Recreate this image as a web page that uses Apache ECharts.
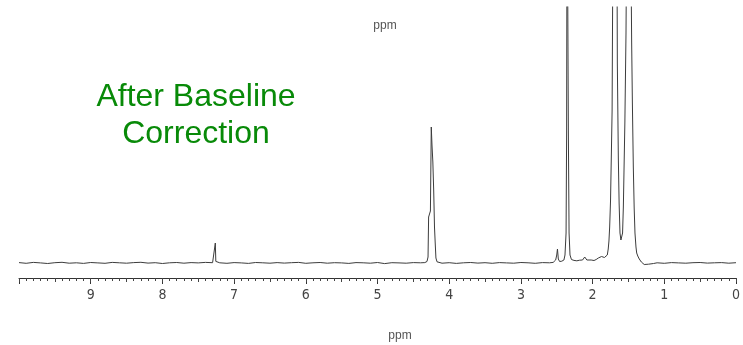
<!DOCTYPE html>
<html>
<head>
<meta charset="utf-8">
<script src="https://cdn.jsdelivr.net/npm/echarts@6/dist/echarts.min.js"></script>
<style>
  html, body { margin: 0; padding: 0; background: #fff; }
  #chart { width: 743px; height: 345px; }
</style>
</head>
<body>
<div id="chart"></div>
<script>
// spectrum trace (ppm, height above baseline)
const ppm = [
  10.0, 9.9, 9.8, 9.7, 9.6, 9.5, 9.4, 9.3, 9.2, 9.1, 9.0, 8.9, 8.8, 8.7, 8.6, 8.5, 8.4, 8.3, 8.2, 8.1,
  8.0, 7.9, 7.8, 7.7, 7.6, 7.5, 7.4, 7.3, 7.275, 7.262, 7.255, 7.245, 7.2, 7.1, 7.0, 6.9, 6.8, 6.7, 6.6,
  6.5, 6.4, 6.3, 6.2, 6.1, 6.0, 5.9, 5.8, 5.7, 5.6, 5.5, 5.4, 5.3, 5.2, 5.1, 5.0, 4.9, 4.8, 4.7, 4.6,
  4.5, 4.4, 4.34, 4.31, 4.295, 4.287, 4.275, 4.262, 4.25, 4.24, 4.228, 4.216, 4.205, 4.195, 4.185, 4.17,
  4.15, 4.1, 4.0, 3.9, 3.8, 3.7, 3.6, 3.5, 3.4, 3.3, 3.2, 3.1, 3.0, 2.9, 2.8, 2.7, 2.6, 2.55,
  2.515, 2.5, 2.49, 2.478, 2.46, 2.43, 2.40, 2.385, 2.37, 2.362, 2.356, 2.345, 2.338, 2.328, 2.315, 2.295,
  2.26, 2.22, 2.18, 2.14, 2.11, 2.095, 2.08, 2.06, 2.02, 1.98, 1.95, 1.92, 1.90, 1.875, 1.86, 1.835,
  1.81, 1.795, 1.782, 1.772, 1.762, 1.75, 1.738, 1.728, 1.718, 1.711, 1.664, 1.655, 1.641, 1.63, 1.618,
  1.605, 1.594, 1.582, 1.571, 1.55, 1.534, 1.516, 1.478, 1.455, 1.445, 1.432, 1.42, 1.409, 1.395, 1.385,
  1.37, 1.349, 1.32, 1.28, 1.22, 1.15, 1.1, 1.0, 0.9, 0.8, 0.7, 0.6, 0.5, 0.4, 0.3, 0.2, 0.1, 0.0
];
const intensity = [
  0.4, -0.3, 0.6, 0.1, -0.5, 0.3, 0.7, -0.2, 0.2, -0.4, 0.5, 0.1, -0.3, 0.6, 0.2, -0.2, 0.4, 0.7, -0.1, 0.3,
  -0.5, 0.2, 0.5, -0.2, 0.4, 0.1, 0.6, 0.3, 0.8, 20, 1.6, 0.9, 0.2, -0.3, 0.4, 0.1, -0.4, 0.5, 0.2,
  -0.2, 0.4, -0.1, 0.3, 0.6, -0.3, 0.2, 0.5, -0.2, 0.3, 0.1, -0.4, 0.4, 0.2, -0.2, 0.5, -0.6, 0.3, 0.1, -0.2,
  0.4, 0.2, 0.4, 1.5, 6, 46, 44, 52, 136, 118, 101, 72, 36, 20, 5, 1.2,
  0.3, -0.2, 0.3, -0.4, 0.2, 0.5, -0.1, 0.3, -0.3, 0.4, 0.1, -0.2, 0.5, 0.2, -0.3, 0.4, 0.2, 0.6,
  3, 8, 14, 4, 1.5, 1.8, 3, 8, 30, 130, 420, 420, 130, 30, 8, 3.5,
  2.6, 2.2, 2.8, 3, 6, 4.5, 3, 2.4, 3, 2.5, 3.5, 5, 4, 6.5, 5, 5.5,
  6, 8, 14, 22, 36, 62, 110, 152, 300, 420, 420, 200, 105, 60, 30,
  23, 21, 30, 56, 140, 230, 420, 420, 220, 160, 96, 55, 30, 16, 10,
  7, 4, 1, -1.5, -1.2, -0.5, 0.2, -0.3, 0.4, 0.1, -0.2, 0.3, 0.5, -0.1, 0.2, 0.4, -0.2, 0.3
];
const majorTicks = [0, 1, 2, 3, 4, 5, 6, 7, 8, 9, 10];

const trace = ppm.map((p, i) => [p, intensity[i]]);

const chart = echarts.init(document.getElementById('chart'), null, { renderer: 'canvas' });

const labelFont = "'DejaVu Sans Condensed', 'Liberation Sans', Arial, sans-serif";

chart.setOption({
  animation: false,
  backgroundColor: '#fff',
  grid: { left: 19, right: 7, top: 7, bottom: 67 },
  xAxis: [
    {
      type: 'value',
      min: 0,
      max: 10,
      interval: 1,
      inverse: true,
      axisLine: { onZero: false, lineStyle: { color: '#333', width: 1 } },
      axisTick: { length: 6, lineStyle: { color: '#333' } },
      minorTick: { show: true, splitNumber: 10, length: 3, lineStyle: { color: '#444' } },
      splitLine: { show: false },
      axisLabel: {
        margin: 10,
        fontSize: 14,
        fontFamily: labelFont,
        color: '#444',
        formatter: v => (v === 10 ? '' : String(majorTicks[v]))
      }
    },
    {
      // the 0.5 ticks are a little longer than the rest
      type: 'value',
      min: 0,
      max: 10,
      interval: 0.5,
      inverse: true,
      position: 'bottom',
      axisLine: { show: false, onZero: false },
      axisTick: { length: 4, lineStyle: { color: '#444' } },
      axisLabel: { show: false },
      splitLine: { show: false }
    }
  ],
  yAxis: {
    type: 'value',
    min: -15,
    max: 256,
    show: false,
    splitLine: { show: false }
  },
  series: [
    {
      type: 'line',
      xAxisIndex: 0,
      data: trace,
      showSymbol: false,
      clip: true,
      lineStyle: { color: '#3c3c3c', width: 1 }
    }
  ],
  graphic: [
    {
      type: 'text', x: 385, y: 26,
      style: { text: 'ppm', fill: '#555', font: '12px "Liberation Sans", Arial, sans-serif', align: 'center', verticalAlign: 'middle' }
    },
    {
      type: 'text', x: 400, y: 336,
      style: { text: 'ppm', fill: '#555', font: '12px "Liberation Sans", Arial, sans-serif', align: 'center', verticalAlign: 'middle' }
    },
    {
      type: 'text', x: 196, y: 97,
      style: { text: 'After Baseline', fill: '#088a08', font: '32px "Liberation Sans", Arial, sans-serif', align: 'center', verticalAlign: 'middle' }
    },
    {
      type: 'text', x: 196, y: 134,
      style: { text: 'Correction', fill: '#088a08', font: '32px "Liberation Sans", Arial, sans-serif', align: 'center', verticalAlign: 'middle' }
    }
  ]
});
</script>
</body>
</html>
